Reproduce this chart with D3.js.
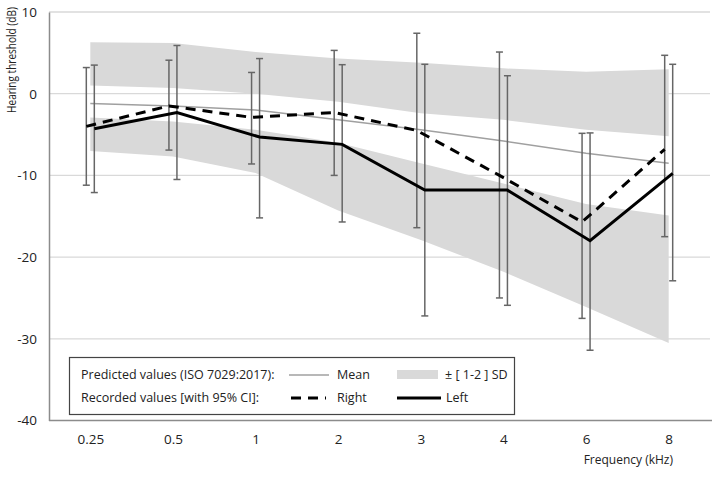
<!DOCTYPE html>
<html><head><meta charset="utf-8">
<script src="https://cdn.jsdelivr.net/npm/d3@7"></script>
<style>body{margin:0;background:#fff}svg{display:block}text{font-family:"Open Sans",sans-serif;fill:#222}</style>
</head><body><svg id="c" width="720" height="478"></svg>
<script>
const categories = ["0.25","0.5","1","2","3","4","6","8"];
const yTicks = [10,0,-10,-20,-30,-40];
const meanPred = [-1.2,-1.5,-2.0,-3.2,-4.4,-5.8,-7.3,-8.5];
const sdUpperOuter = [6.3,6.2,5.1,4.3,3.8,3.1,2.7,3.0];
const sdUpperInner = [1.0,0.7,0.0,-1.0,-2.4,-3.2,-4.4,-5.2];
const sdLowerInner = [-2.9,-3.4,-4.4,-6.0,-8.5,-11.0,-13.5,-14.9];
const sdLowerOuter = [-7.0,-7.7,-9.7,-14.3,-17.9,-21.8,-26.1,-30.5];
const rightVals = [-4.0,-1.5,-2.9,-2.3,-4.5,-10.0,-15.7,-6.8];
const rightLo = [-11.2,-6.9,-8.6,-10.0,-16.4,-25.0,-27.5,-17.5];
const rightHi = [3.2,4.1,2.6,5.3,7.4,5.1,-4.85,4.7];
const leftVals = [-4.3,-2.3,-5.3,-6.2,-11.8,-11.8,-18.0,-9.75];
const leftLo = [-12.1,-10.5,-15.2,-15.7,-27.2,-25.9,-31.4,-22.9];
const leftHi = [3.5,5.9,4.3,3.55,3.6,2.2,-4.8,3.6];

const svg = d3.select("#c");
const x = d3.scalePoint().domain(categories).range([49,710]).padding(0.5);
const y = d3.scaleLinear().domain([-40,10]).range([420.5,12]);
const off = 4;

// gridlines
svg.append("g").selectAll("line").data(yTicks.filter(t=>t>-40)).join("line")
  .attr("x1",49).attr("x2",710).attr("y1",d=>y(d)).attr("y2",d=>y(d))
  .attr("stroke","#d9d9d9").attr("stroke-width",1.3);

// SD bands
const idx = d3.range(categories.length);
const area = (a,b)=>d3.area().x(i=>x(categories[i])).y0(i=>y(a[i])).y1(i=>y(b[i]));
svg.append("path").attr("d",area(sdUpperInner,sdUpperOuter)(idx)).attr("fill","#d9d9d9");
svg.append("path").attr("d",area(sdLowerOuter,sdLowerInner)(idx)).attr("fill","#d9d9d9");

// mean line
svg.append("path").attr("d",d3.line().x(i=>x(categories[i])).y(i=>y(meanPred[i]))(idx))
  .attr("fill","none").attr("stroke","#a0a0a0").attr("stroke-width",1.5);

// axes
const yAxis = d3.axisLeft(y).tickValues(yTicks).tickSize(0).tickPadding(12).tickFormat(d=>String(d));
const gy = svg.append("g").attr("transform","translate(49,0)").call(yAxis);
gy.select(".domain").attr("stroke","#8c8c8c").attr("stroke-width",1.5);
gy.selectAll("text").style("font-size","13.5px").style("font-family","'Open Sans',sans-serif").attr("fill","#222");

const xAxis = d3.axisBottom(x).tickSize(0).tickPadding(14);
const gx = svg.append("g").attr("transform","translate(0,"+y(-40)+")").call(xAxis);
gx.select(".domain").attr("d","M49,0H712").attr("stroke","#8c8c8c").attr("stroke-width",1.5);
gx.selectAll("text").style("font-size","13.5px").style("font-family","'Open Sans',sans-serif").attr("fill","#222");

// axis titles
const yt = svg.append("text").attr("text-anchor","middle")
  .style("font-size","12.5px").text("Hearing threshold (dB)");
const natural = yt.node().getComputedTextLength();
const sx = 106 / natural;
yt.attr("transform","translate(16,60) rotate(-90) scale("+sx+",1)");
svg.append("text").attr("x",673).attr("y",464).attr("text-anchor","end")
  .style("font-size","12px").text("Frequency (kHz)");

// error bars
function errBars(lo,hi,dx){
  const g = svg.append("g").attr("stroke","#666").attr("stroke-width",1.5);
  idx.forEach(i=>{
    const cx = x(categories[i])+dx;
    g.append("line").attr("x1",cx).attr("x2",cx).attr("y1",y(lo[i])).attr("y2",y(hi[i]));
    g.append("line").attr("x1",cx-3.5).attr("x2",cx+3.5).attr("y1",y(lo[i])).attr("y2",y(lo[i]));
    g.append("line").attr("x1",cx-3.5).attr("x2",cx+3.5).attr("y1",y(hi[i])).attr("y2",y(hi[i]));
  });
}
errBars(rightLo,rightHi,-off);
errBars(leftLo,leftHi,off);

// right (dashed) and left (solid)
svg.append("path").attr("d",d3.line().x(i=>x(categories[i])-off).y(i=>y(rightVals[i]))(idx))
  .attr("fill","none").attr("stroke","#000").attr("stroke-width",3).attr("stroke-dasharray","10,7");
svg.append("path").attr("d",d3.line().x(i=>x(categories[i])+off).y(i=>y(leftVals[i]))(idx))
  .attr("fill","none").attr("stroke","#000").attr("stroke-width",3);

// legend
const fs = "12.5px";
const lg = svg.append("g");
lg.append("rect").attr("x",69.5).attr("y",357.5).attr("width",445).attr("height",57)
  .attr("fill","#fff").attr("stroke","#444").attr("stroke-width",1.2);
const r1 = 375, r2 = 398;
lg.append("text").attr("x",81).attr("y",r1).attr("dy","0.35em").style("font-size",fs).text("Predicted values (ISO 7029:2017):");
lg.append("text").attr("x",81).attr("y",r2).attr("dy","0.35em").style("font-size",fs).text("Recorded values [with 95% CI]:");
lg.append("line").attr("x1",289).attr("x2",329).attr("y1",r1).attr("y2",r1).attr("stroke","#a0a0a0").attr("stroke-width",1.5);
lg.append("text").attr("x",337).attr("y",r1).attr("dy","0.35em").style("font-size",fs).text("Mean");
lg.append("rect").attr("x",397).attr("y",370).attr("width",41).attr("height",9).attr("fill","#d9d9d9");
lg.append("text").attr("x",445).attr("y",r1).attr("dy","0.35em").style("font-size",fs).text("± [ 1-2 ] SD");
lg.append("line").attr("x1",291).attr("x2",326).attr("y1",r2).attr("y2",r2).attr("stroke","#000").attr("stroke-width",3).attr("stroke-dasharray","10,7");
lg.append("text").attr("x",337).attr("y",r2).attr("dy","0.35em").style("font-size",fs).text("Right");
lg.append("line").attr("x1",397).attr("x2",441).attr("y1",r2).attr("y2",r2).attr("stroke","#000").attr("stroke-width",3);
lg.append("text").attr("x",446).attr("y",r2).attr("dy","0.35em").style("font-size",fs).text("Left");
</script></body></html>
